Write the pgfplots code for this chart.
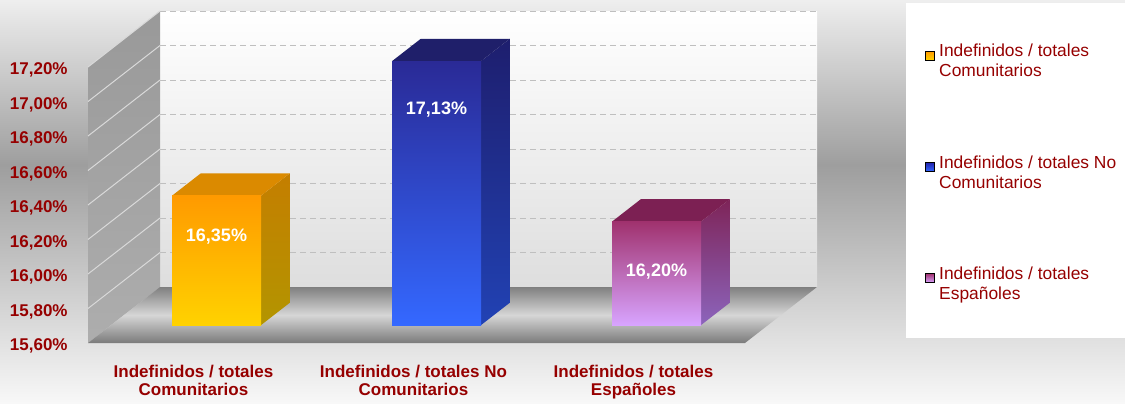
\documentclass[border=0pt]{standalone}
\usepackage{pgfplots}
\pgfplotsset{compat=1.18}
\usepackage{fontspec}
\setmainfont{Liberation Sans}
\definecolor{txtred}{HTML}{960000}
\definecolor{bgtop}{HTML}{EEEEEE}
\definecolor{bgmid}{HTML}{9E9E9E}
\definecolor{bgbot}{HTML}{F8F8F8}
\definecolor{otop}{HTML}{FF9A00}
\definecolor{obot}{HTML}{FFD200}
\definecolor{ostop}{HTML}{C47E00}
\definecolor{osbot}{HTML}{B39500}
\definecolor{otf}{HTML}{DB8A00}
\definecolor{btop}{HTML}{2A2A96}
\definecolor{bbot}{HTML}{3468FF}
\definecolor{bstop}{HTML}{1E1E6E}
\definecolor{bsbot}{HTML}{2142B4}
\definecolor{btf}{HTML}{1F1F6A}
\definecolor{ptop}{HTML}{A0326E}
\definecolor{pbot}{HTML}{D8A4FF}
\definecolor{pstop}{HTML}{7E2458}
\definecolor{psbot}{HTML}{8C64BC}
\definecolor{ptf}{HTML}{7C2053}
\def\HW{0.20227}
\def\DX{0.32727}
\def\DY{0.32464}
\pgfkeys{/pgf/number format/assume math mode=true}
\newcommand{\threedbar}[5]{%
 \addplot[draw=none, forget plot, #4] table[row sep=\\, x expr={#1+\HW+\DX*\thisrow{d}}, y expr={\thisrow{y}+\DY*\thisrow{d}}] {d y\\ 0.32 15.6\\ 0.72 15.6\\ 0.72 #2\\ 0.32 #2\\};
 \addplot[draw=none, forget plot, #5] table[row sep=\\, x expr={#1+\HW*\thisrow{s}+\DX*\thisrow{d}}, y expr={#2+\DY*\thisrow{d}}] {s d\\ -1 0.32\\ 1 0.32\\ 1 0.72\\ -1 0.72\\};
 \addplot[draw=none, forget plot, #3] table[row sep=\\, x expr={#1+\HW*\thisrow{s}+\DX*0.32}, y expr={\thisrow{y}+\DY*0.32}] {s y\\ -1 15.6\\ 1 15.6\\ 1 #2\\ -1 #2\\};
}
\begin{document}
\begin{tikzpicture}
\path[use as bounding box] (0,0) rectangle (562.5pt,201.5pt);
\shade[top color=bgtop, bottom color=bgmid] (0,119pt) rectangle (562.5pt,201.5pt);
\shade[top color=bgmid, bottom color=bgbot] (0,0) rectangle (562.5pt,119pt);
\fill[white] (453pt,32.5pt) rectangle (562.5pt,200pt);
\begin{axis}[
  at={(44pt,30pt)}, anchor=south west,
  scale only axis, width=328.5pt, height=138pt,
  xmin=-0.4795, xmax=2.5068, ymin=15.6, ymax=17.2,
  clip=false, enlargelimits=false,
  axis line style={draw=none},
  major tick style={draw=none},
  ytick={15.6,15.8,16.0,16.2,16.4,16.6,16.8,17.0,17.2},
  yticklabel={\pgfmathprintnumber[fixed,fixed zerofill,precision=2,use comma]{\tick}\%},
  yticklabel style={anchor=east, inner sep=0pt, xshift=-10pt, yshift=-1.5pt, text=txtred, font=\fontsize{8.5}{10}\selectfont\bfseries},
  xtick={0,1,2},
  xticklabels={{Indefinidos / totales\\Comunitarios},{Indefinidos / totales No\\Comunitarios},{Indefinidos / totales\\Españoles}},
  xticklabel style={align=center, anchor=north, inner sep=0pt, yshift=-11pt, text=txtred, font=\fontsize{8.5}{9}\selectfont\bfseries},
  legend style={at={(1.274,1.098)}, anchor=north west, draw=none, fill=none, inner sep=0pt, row sep=33.8pt, font=\fontsize{8.7}{10}\selectfont, text=txtred, cells={align=left, anchor=west}},
]
% back wall
\addplot[draw=none, forget plot, top color=white, bottom color=black!13] coordinates {(-0.15223,15.92464) (2.83407,15.92464) (2.83407,17.52464) (-0.15223,17.52464)};
% left wall
\addplot[draw=none, forget plot, top color=black!40, bottom color=black!32] coordinates {(-0.4795,15.6) (-0.15223,15.92464) (-0.15223,17.52464) (-0.4795,17.2)};
% floor
\addplot[draw=none, forget plot, top color=black!50, bottom color=black!52, middle color=black!16] coordinates {(-0.4795,15.6) (2.5068,15.6) (2.83407,15.92464) (-0.15223,15.92464)};
% back wall grid
\pgfplotsinvokeforeach{15.8,16.0,16.2,16.4,16.6,16.8,17.0,17.2}{
 \addplot[forget plot, black!25, densely dashed, line width=0.4pt] table[row sep=\\, y expr={#1+\DY}] {x\\ -0.15223\\ 2.83407\\};
 \addplot[forget plot, white!85!black, line width=0.5pt] table[row sep=\\, x expr={-0.4795+\DX*\thisrow{d}}, y expr={#1+\DY*\thisrow{d}}] {d\\ 0\\ 1\\};
}
\threedbar{0}{16.35}{top color=otop, bottom color=obot}{top color=ostop, bottom color=osbot}{fill=otf}
\threedbar{1}{17.13}{top color=btop, bottom color=bbot}{top color=bstop, bottom color=bsbot}{fill=btf}
\threedbar{2}{16.20}{top color=ptop, bottom color=pbot}{top color=pstop, bottom color=psbot}{fill=ptf}
% value labels
\pgfplotsset{vlab/.style={forget plot, draw=none, mark=none, point meta=y,
  nodes near coords={\pgfmathprintnumber[fixed,fixed zerofill,precision=2,use comma]{\pgfplotspointmeta}\%},
  nodes near coords style={text=white, anchor=center, inner sep=0pt, xshift=11.5pt, yshift=#1, font=\fontsize{9}{10}\selectfont\bfseries}}}
\addplot[vlab=-11.5pt] coordinates {(0,16.35)};
\addplot[vlab=-15.5pt] coordinates {(1,17.13)};
\addplot[vlab=-16pt] coordinates {(2,16.20)};
% legend
\addlegendimage{legend image code/.code={\shade[top color=otop, bottom color=obot] (0pt,1pt) rectangle (4.5pt,5.5pt);}}
\addlegendentry{Indefinidos / totales\\Comunitarios}
\addlegendimage{legend image code/.code={\shade[top color=btop!80!blue, bottom color=bbot] (0pt,1pt) rectangle (4.5pt,5.5pt);}}
\addlegendentry{Indefinidos / totales No\\Comunitarios}
\addlegendimage{legend image code/.code={\shade[top color=ptop, bottom color=pbot] (0pt,1pt) rectangle (4.5pt,5.5pt);}}
\addlegendentry{Indefinidos / totales\\Españoles}
\end{axis}
\end{tikzpicture}
\end{document}
